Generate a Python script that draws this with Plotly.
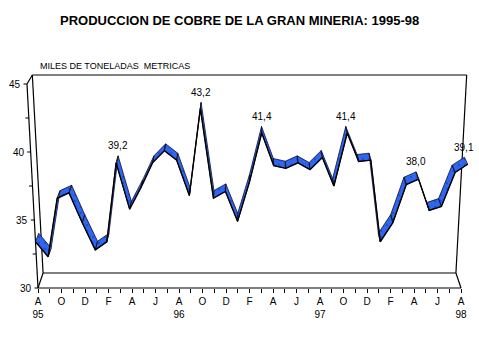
import plotly.graph_objects as go

# ---------------- data ----------------
month_initials = ["A", "S", "O", "N", "D", "J", "F", "M", "A", "M", "J", "J"]  # from Aug
n_months = 37  # Aug 1995 .. Aug 1998
year_labels = {0: "95", 12: "96", 24: "97", 36: "98"}
values = [33.4, 32.3, 36.6, 37.0, 34.8, 32.8, 33.4, 39.2, 35.8, 37.4, 39.2, 40.1,
          39.4, 36.8, 43.2, 36.6, 37.1, 34.9, 37.8, 41.4, 39.0, 38.8, 39.2, 38.7,
          39.6, 37.5, 41.4, 39.3, 39.4, 33.4, 34.8, 37.6, 38.0, 35.7, 36.0, 38.5, 39.1]
labelled = {7: "39,2", 14: "43,2", 19: "41,4", 26: "41,4", 32: "38,0", 36: "39,1"}
y_ticks = [30, 35, 40, 45]
y_minor = [30, 32.5, 35, 37.5, 40, 42.5, 45]

title = "PRODUCCION DE COBRE DE LA GRAN MINERIA: 1995-98"
unit = "MILES DE TONELADAS  METRICAS"

# ---------------- pseudo-3D projection (in data units) ----------------
W, H = 479, 359
PX_M = 11.75      # pixels per month
PX_V = 13.6       # pixels per thousand tonnes
X0, Y0 = 38, 288  # pixel of (month 0, value 30)
VMIN, VMAX = 30, 45
MMAX = n_months - 1
CM = MMAX / 2
WIDEN = 0.00347   # horizontal widening per value unit (view from below)
SHRINK = 0.024    # horizontal shrink at full depth
D_RIB = 0.62      # depth of the ribbon


def rise(v):
    return (15 - 0.4 * (v - VMIN)) / PX_V


def proj(m, v, d):
    w = (1 + WIDEN * (v - VMIN)) * (1 - SHRINK * d)
    return CM + (m - CM) * w, v + rise(v) * d


x_range = [-X0 / PX_M, (W - X0) / PX_M]
y_range = [VMIN - (H - Y0) / PX_V, VMIN + Y0 / PX_V]

fig = go.Figure()

# ribbon polygons
px, py = [], []
for i in range(n_months - 1):
    pts = [proj(i, values[i], 0), proj(i + 1, values[i + 1], 0),
           proj(i + 1, values[i + 1], D_RIB), proj(i, values[i], D_RIB),
           proj(i, values[i], 0)]
    for a, b in pts:
        px.append(a)
        py.append(b)
    px.append(None)
    py.append(None)

fig.add_trace(go.Scatter(
    x=px, y=py, mode="lines", fill="toself",
    fillcolor="#2e66f0",
    fillpattern=dict(shape=".", fgcolor="#163a9c", bgcolor="#2e66f0",
                     size=6, solidity=0.12),
    line=dict(color="#101030", width=0.8),
    hoverinfo="skip", showlegend=False))

# front edge
fx, fy = zip(*[proj(i, values[i], 0) for i in range(n_months)])
fig.add_trace(go.Scatter(x=list(fx), y=list(fy), mode="lines",
                         line=dict(color="black", width=1.4),
                         hoverinfo="skip", showlegend=False))

# frame
shapes = []


def seg(p, q, width=1.2):
    shapes.append(dict(type="line", xref="x", yref="y", x0=p[0], y0=p[1],
                       x1=q[0], y1=q[1], line=dict(color="black", width=width),
                       layer="below"))


seg(proj(0, VMIN, 0), proj(MMAX, VMIN, 0))
seg(proj(0, VMIN, 0), proj(0, VMAX, 0))
seg(proj(0, VMIN, 0), proj(0, VMIN, 1))
seg(proj(MMAX, VMIN, 0), proj(MMAX, VMIN, 1))
seg(proj(0, VMIN, 1), proj(MMAX, VMIN, 1))
seg(proj(0, VMIN, 1), proj(0, VMAX, 1))
seg(proj(MMAX, VMIN, 1), proj(MMAX, VMAX, 1))
seg(proj(0, VMAX, 1), proj(MMAX, VMAX, 1))
seg(proj(0, VMAX, 0), proj(0, VMAX, 1))

# y ticks on the tilted front axis
for v in y_minor:
    p = proj(0, v, 0)
    seg((p[0] - 3.5 / PX_M, p[1]), p, width=1)

annotations = []
for v in y_ticks:
    p = proj(0, v, 0)
    annotations.append(dict(x=p[0], y=p[1], xref="x", yref="y", text=str(v),
                            showarrow=False, xanchor="right", yanchor="middle",
                            xshift=-4, font=dict(size=10, color="black")))

for i, txt in labelled.items():
    p = proj(i, values[i], D_RIB)
    annotations.append(dict(x=p[0], y=p[1], xref="x", yref="y", text=txt,
                            showarrow=False, xanchor="center", yanchor="middle",
                            yshift=10, font=dict(size=10, color="black")))

annotations.append(dict(x=0.5, y=1 - 20.5 / H, xref="paper", yref="paper",
                        text="<b>" + title + "</b>", showarrow=False,
                        xanchor="center", yanchor="middle",
                        font=dict(size=13, color="black")))
annotations.append(dict(x=X0 / W, y=1 - 65.5 / H, xref="paper", yref="paper",
                        text=unit, showarrow=False, xanchor="left",
                        yanchor="middle", font=dict(size=9, color="black")))

ticktext = []
for i in range(n_months):
    if i % 2 == 0:
        t = month_initials[i % 12]
        if i in year_labels:
            t += "<br>" + year_labels[i]
        ticktext.append(t)
    else:
        ticktext.append("")

fig.update_layout(
    width=W, height=H, autosize=False,
    margin=dict(l=0, r=0, t=0, b=0),
    paper_bgcolor="white", plot_bgcolor="white",
    font=dict(family="Liberation Sans, Arial, sans-serif", color="black"),
    showlegend=False, hovermode=False,
    shapes=shapes, annotations=annotations,
    xaxis=dict(range=x_range, showgrid=False, zeroline=False, showline=False,
               anchor="free", position=(H - Y0) / H,
               tickmode="array", tickvals=list(range(n_months)),
               ticktext=ticktext, ticks="outside", ticklen=4, tickwidth=1,
               tickcolor="black", tickangle=0,
               tickfont=dict(size=10, color="black"), fixedrange=True),
    yaxis=dict(range=y_range, showgrid=False, zeroline=False, showline=False,
               showticklabels=False, ticks="", fixedrange=True),
)

fig.write_html("out.html",
               config={"displayModeBar": False, "staticPlot": True},
               post_script="document.body.style.margin='0';"
                           "document.body.style.overflow='hidden';")
